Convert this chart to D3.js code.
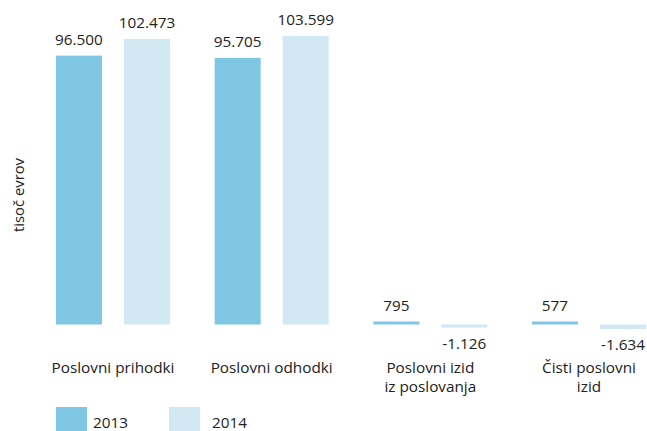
<!DOCTYPE html>
<html>
<head>
<meta charset="utf-8">
<script src="https://cdn.jsdelivr.net/npm/d3@7/dist/d3.min.js"></script>
<style>
  html, body { margin: 0; padding: 0; background: #fff; }
  svg { display: block; }
  text { font-family: "Open Sans", "Noto Sans", sans-serif; fill: #222; }
</style>
</head>
<body>
<svg id="chart" width="647" height="431"></svg>
<script>
const categories = [["Poslovni prihodki"], ["Poslovni odhodki"], ["Poslovni izid", "iz poslovanja"], ["Čisti poslovni", "izid"]];
const seriesNames = ["2013", "2014"];
const values2013 = [96500, 95705, 795, 577];
const values2014 = [102473, 103599, -1126, -1634];
const valueLabels2013 = ["96.500", "95.705", "795", "577"];
const valueLabels2014 = ["102.473", "103.599", "-1.126", "-1.634"];
const colors = ["#7fc6e3", "#d2e9f4"];
const yTitle = "tisoč evrov";

const svg = d3.select("#chart");

const x0 = d3.scaleBand().domain(d3.range(categories.length)).range([56, 646]).paddingInner(0.2815).paddingOuter(0);
const x1 = d3.scaleBand().domain(seriesNames).range([0, x0.bandwidth()]).paddingInner(0.324).paddingOuter(0);
const y = d3.scaleLinear().domain([0, 110000]).range([324.5, 18]);

const data = categories.map((c, i) => ({
  i, label: c,
  bars: [
    { s: seriesNames[0], v: values2013[i], t: valueLabels2013[i], c: colors[0] },
    { s: seriesNames[1], v: values2014[i], t: valueLabels2014[i], c: colors[1] }
  ]
}));

const g = svg.append("g");
const groups = g.selectAll("g.grp").data(data).join("g")
  .attr("transform", d => `translate(${x0(d.i)},0)`);

const minH = 3;
function barTop(v) {
  if (v >= 0) { const h = Math.max(y(0) - y(v), minH); return y(0) - h; }
  return y(0);
}
function barH(v) {
  return Math.max(Math.abs(y(v) - y(0)), minH);
}

groups.selectAll("rect").data(d => d.bars).join("rect")
  .attr("x", b => x1(b.s))
  .attr("y", b => barTop(b.v))
  .attr("width", x1.bandwidth())
  .attr("height", b => barH(b.v))
  .attr("fill", b => b.c);

groups.selectAll("text.val").data(d => d.bars).join("text")
  .attr("class", "val")
  .attr("x", b => x1(b.s) + x1.bandwidth() / 2)
  .attr("y", b => b.v >= 0 ? barTop(b.v) - 11 : barTop(b.v) + barH(b.v) + 21)
  .attr("text-anchor", "middle")
  .attr("font-size", 15.3)
  .text(b => b.t);

groups.each(function(d) {
  const sel = d3.select(this);
  d.label.forEach((line, k) => {
    sel.append("text")
      .attr("text-anchor", "middle")
      .attr("font-size", 15.3)
      .attr("x", x0.bandwidth() / 2)
      .attr("y", 373 + k * 18.5)
      .text(line);
  });
});

svg.append("text")
  .attr("transform", "translate(24,195) rotate(-90)")
  .attr("text-anchor", "middle")
  .attr("font-size", 14.8)
  .text(yTitle);

// legend
const legendX = [56, 169];
const legendTextX = [93, 212];
seriesNames.forEach((s, i) => {
  svg.append("rect").attr("x", legendX[i]).attr("y", 407).attr("width", 31).attr("height", 24).attr("fill", colors[i]);
  svg.append("text").attr("x", legendTextX[i]).attr("y", 428).attr("font-size", 15.3).text(s);
});
</script>
</body>
</html>
